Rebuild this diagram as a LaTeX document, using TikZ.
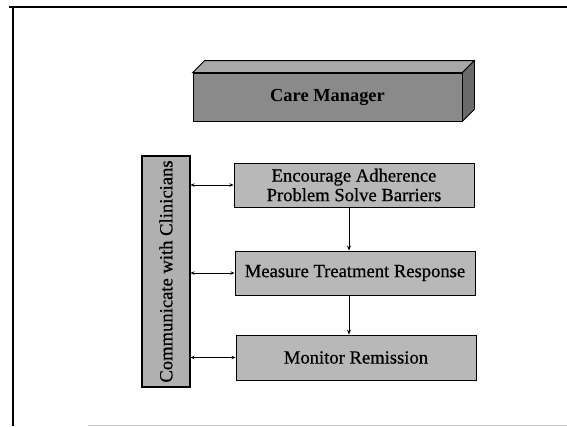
\documentclass[tikz,border=0pt]{standalone}
\usepackage{fontspec}
\setmainfont{Liberation Serif}
\newfontfamily\heavyserif[FakeBold=0.7]{Liberation Serif}
\usetikzlibrary{arrows.meta}

\definecolor{frontgray}{HTML}{8A8A8A}
\definecolor{topgray}{HTML}{A8A8A8}
\definecolor{sidegray}{HTML}{6A6A6A}
\definecolor{boxgray}{HTML}{B8B8B8}
\definecolor{sidebargray}{HTML}{B0B0B0}
\definecolor{rulegray}{HTML}{C8C8C8}

\tikzset{
  txt/.style={font=\heavyserif\fontsize{18.6}{19.5}\selectfont},
  stepbox/.style={txt, draw=black, line width=0.9pt, fill=boxgray,
    minimum width=240pt, minimum height=44pt, inner sep=0pt,
    align=center, text=black},
  sidebar/.style={txt, draw=black, line width=1.1pt, fill=sidebargray,
    rotate=90, minimum width=231pt, minimum height=48pt, inner sep=0pt},
  headbox/.style={font=\fontsize{18.4}{19.5}\selectfont\bfseries,
    draw=black, line width=0.8pt, fill=frontgray,
    minimum width=269pt, minimum height=48pt, inner sep=0pt},
  link/.style={{Stealth[length=4pt,width=3.5pt]}-{Stealth[length=4pt,width=3.5pt]},
    line width=0.8pt, black},
  flow/.style={-{Stealth[length=5pt,width=4pt]}, line width=0.9pt, black},
}

\begin{document}
\begin{tikzpicture}[x=1pt, y=-1pt]
  \useasboundingbox (0,0) rectangle (567,426);

  % page frame
  \draw[line width=2pt] (9,7) -- (567,7);
  \draw[line width=2.4pt] (13,7) -- (13,426);
  \draw[rulegray, line width=1pt] (88,425) -- (567,425);

  % 3-D bar for the care manager
  \node[headbox] (cm) at (327.5,97) {Care Manager};
  \draw[line width=0.8pt, fill=topgray]
    (cm.north west) -- ++(12,-12) -- ([shift={(12,-12)}]cm.north east)
    -- (cm.north east) -- cycle;
  \draw[line width=0.8pt, fill=sidegray]
    (cm.north east) -- ++(12,-12) -- ([shift={(12,-12)}]cm.south east)
    -- (cm.south east) -- cycle;

  % vertical side bar
  \node[sidebar] (comm) at (166,271.5) {Communicate with Clinicians};

  % process steps
  \node[stepbox] (enc)  at (354,185)   {Encourage Adherence\\Problem Solve Barriers};
  \node[stepbox] (meas) at (355,273)   {Measure Treatment Response};
  \node[stepbox, minimum height=45pt] (mon) at (356,357.5) {Monitor Remission};

  % two-way links to the side bar
  \draw[link] (comm.south |- enc.west)  -- (enc.west);
  \draw[link] (comm.south |- meas.west) -- (meas.west);
  \draw[link] (comm.south |- mon.west)  -- (mon.west);

  % downward flow
  \draw[flow] ([xshift=-5pt]enc.south)  -- ([xshift=-5pt]enc.south |- meas.north);
  \draw[flow] ([xshift=-6pt]meas.south) -- ([xshift=-6pt]meas.south |- mon.north);
\end{tikzpicture}
\end{document}
